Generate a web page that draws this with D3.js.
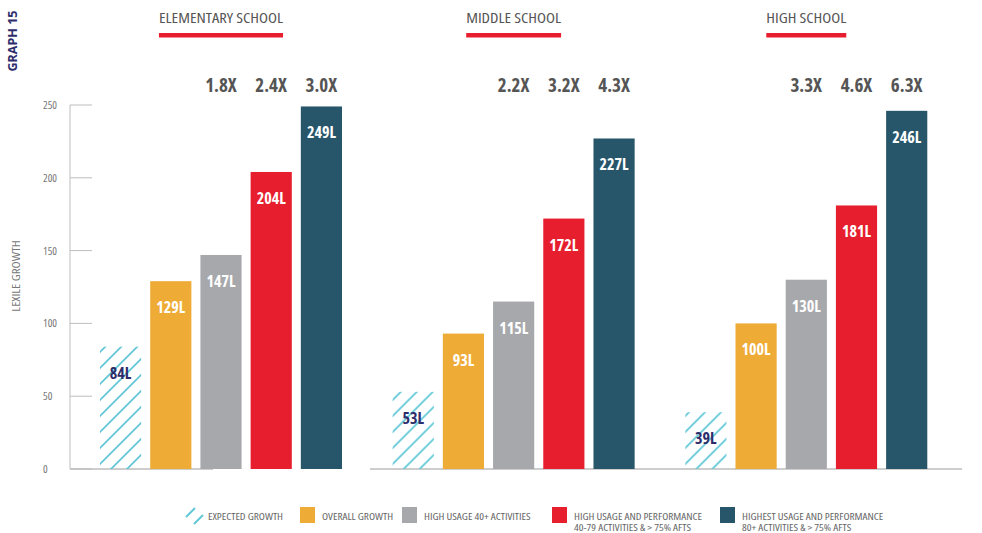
<!DOCTYPE html>
<html>
<head>
<meta charset="utf-8">
<script src="https://cdn.jsdelivr.net/npm/d3@7"></script>
<style>
  body { margin: 0; background: #fff; }
  svg { display: block; font-family: 'Open Sans', sans-serif; font-stretch: condensed; }
</style>
</head>
<body>
<div id="chart"></div>
<script>
const groups = ['ELEMENTARY SCHOOL', 'MIDDLE SCHOOL', 'HIGH SCHOOL']
const series = ['expected', 'overall', 'high', 'highPerf', 'highest']
const expected = [84, 53, 39]
const overall = [129, 93, 100]
const highUsage = [147, 115, 130]
const highPerf = [204, 172, 181]
const highest = [249, 227, 246]
const multHigh = ['1.8X', '2.2X', '3.3X']
const multPerf = ['2.4X', '3.2X', '4.6X']
const multHighest = ['3.0X', '4.3X', '6.3X']
const yTicks = [0, 50, 100, 150, 200, 250]
const legendLabels = [
  ['EXPECTED GROWTH'],
  ['OVERALL GROWTH'],
  ['HIGH USAGE 40+ ACTIVITIES'],
  ['HIGH USAGE AND PERFORMANCE', '40-79 ACTIVITIES & > 75% AFTS'],
  ['HIGHEST USAGE AND PERFORMANCE', '80+ ACTIVITIES & > 75% AFTS']
]

let w = 982,
  h = 533,
  color = ['url(#hatch)', '#eeab35', '#a7a8ac', '#e61e2d', '#27566b'],
  stretch = 1.18 // condensed face is narrower than the original semi-condensed one

let data = groups.map((g, i) => ({
  group: g,
  values: [expected[i], overall[i], highUsage[i], highPerf[i], highest[i]],
  mult: [null, null, multHigh[i], multPerf[i], multHighest[i]]
}))

let svg = d3.select('#chart').append('svg').attr('width', w).attr('height', h)

let defs = svg.append('defs')
let pat = defs.append('pattern')
  .attr('id', 'hatch')
  .attr('patternUnits', 'userSpaceOnUse')
  .attr('width', 16)
  .attr('height', 16)
pat.append('path')
  .attr('d', 'M0,16 L16,0 M-4,4 L4,-4 M12,20 L20,12')
  .attr('stroke', '#62c8d8')
  .attr('stroke-width', 1.8)

let yScale = d3.scaleLinear().domain([0, 250]).range([469, 105])
let x0 = d3.scaleBand().domain(groups).range([100, 935.5]).paddingInner(0.145)
let x1 = d3.scaleBand().domain(series).range([0, 242]).paddingInner(0.18)

// axis
let axis = svg.append('g')
axis.append('line')
  .attr('x1', 70).attr('x2', 70)
  .attr('y1', yScale(250)).attr('y2', yScale(0))
  .attr('stroke', '#bdbdbd')
axis.selectAll('.tick')
  .data(yTicks)
  .enter()
  .append('line')
  .attr('x1', 70).attr('x2', 92)
  .attr('y1', d => yScale(d)).attr('y2', d => yScale(d))
  .attr('stroke', '#bdbdbd')
axis.selectAll('text')
  .data(yTicks)
  .enter()
  .append('text')
  .attr('x', 43)
  .attr('y', d => yScale(d) + 4)
  .text(d => d)
  .style('font-size', '11px')
  .style('fill', '#777')

svg.append('text')
  .attr('transform', 'translate(20, 276) rotate(-90) scale(1.3, 1)')
  .attr('text-anchor', 'middle')
  .text('LEXILE GROWTH')
  .style('font-size', '10px')
  .style('fill', '#777')

svg.append('text')
  .attr('transform', 'translate(17, 41) rotate(-90)')
  .attr('text-anchor', 'middle')
  .text('GRAPH 15')
  .style('font-size', '12.5px')
  .style('font-stretch', 'normal')
  .style('font-weight', 'bold')
  .style('fill', '#2e2d6b')

// baselines
svg.append('line')
  .attr('x1', 70).attr('x2', 213)
  .attr('y1', yScale(0)).attr('y2', yScale(0))
  .attr('stroke', '#bdbdbd').attr('stroke-width', 1.5)
svg.append('line')
  .attr('x1', 370).attr('x2', 962)
  .attr('y1', yScale(0)).attr('y2', yScale(0))
  .attr('stroke', '#bdbdbd').attr('stroke-width', 1.5)

let g = svg.selectAll('.serie')
  .data(data)
  .enter()
  .append('g')
  .attr('class', 'serie')
  .attr('transform', d => `translate(${x0(d.group)}, 0)`)

// titles
let cx = (x1('highest') + x1.bandwidth()) / 2
g.append('text')
  .attr('class', 'title')
  .attr('transform', `translate(${cx}, 23) scale(${stretch}, 1)`)
  .attr('text-anchor', 'middle')
  .text(d => d.group)
  .style('font-size', '14px')
  .style('fill', '#555')
g.each(function () {
  let tw = d3.select(this).select('.title').node().getComputedTextLength() * stretch
  d3.select(this).append('rect')
    .attr('x', cx - tw / 2)
    .attr('y', 33)
    .attr('width', tw)
    .attr('height', 4.5)
    .attr('fill', '#e61e2d')
})

// bars
g.selectAll('rect.bar')
  .data(d => d.values.map((v, i) => ({ key: series[i], v: v, i: i })))
  .enter()
  .append('rect')
  .attr('class', 'bar')
  .attr('x', d => x1(d.key))
  .attr('y', d => yScale(d.v))
  .attr('width', x1.bandwidth())
  .attr('height', d => yScale(0) - yScale(d.v))
  .attr('fill', d => color[d.i])

// value labels
g.selectAll('text.val')
  .data(d => d.values.map((v, i) => ({ key: series[i], v: v, i: i })))
  .enter()
  .append('text')
  .attr('class', 'val')
  .attr('x', d => x1(d.key) + x1.bandwidth() / 2)
  .attr('y', d => yScale(d.v) + 32)
  .attr('text-anchor', 'middle')
  .text(d => d.v + 'L')
  .style('font-size', '16px')
  .style('font-weight', 'bold')
  .style('fill', d => d.i === 0 ? '#2e2d6b' : '#fff')

// multipliers
g.selectAll('text.mult')
  .data(d => d.mult.map((m, i) => ({ key: series[i], m: m })).filter(d => d.m))
  .enter()
  .append('text')
  .attr('class', 'mult')
  .attr('x', d => x1(d.key) + x1.bandwidth() / 2)
  .attr('y', 92)
  .attr('text-anchor', 'middle')
  .text(d => d.m)
  .style('font-size', '19px')
  .style('font-weight', 'bold')
  .style('fill', '#555')

// legend
let legX = [186, 300, 402, 552, 720]
let leg = svg.selectAll('.leg')
  .data(legendLabels)
  .enter()
  .append('g')
  .attr('class', 'leg')
  .attr('transform', (d, i) => `translate(${legX[i]}, 507)`)
leg.filter((d, i) => i === 0)
  .append('path')
  .attr('d', 'M0,10 L9,1 M8,17 L17,8')
  .attr('stroke', '#62c8d8')
  .attr('stroke-width', 2)
leg.filter((d, i) => i > 0)
  .append('rect')
  .attr('width', 15)
  .attr('height', 16)
  .attr('fill', (d, i) => color[i + 1])
leg.selectAll('text')
  .data(d => d)
  .enter()
  .append('text')
  .attr('transform', (d, j) => `translate(22, ${12.5 + j * 11.5}) scale(${stretch}, 1)`)
  .text(d => d)
  .style('font-size', '9.5px')
  .style('fill', '#666')
</script>
</body>
</html>
